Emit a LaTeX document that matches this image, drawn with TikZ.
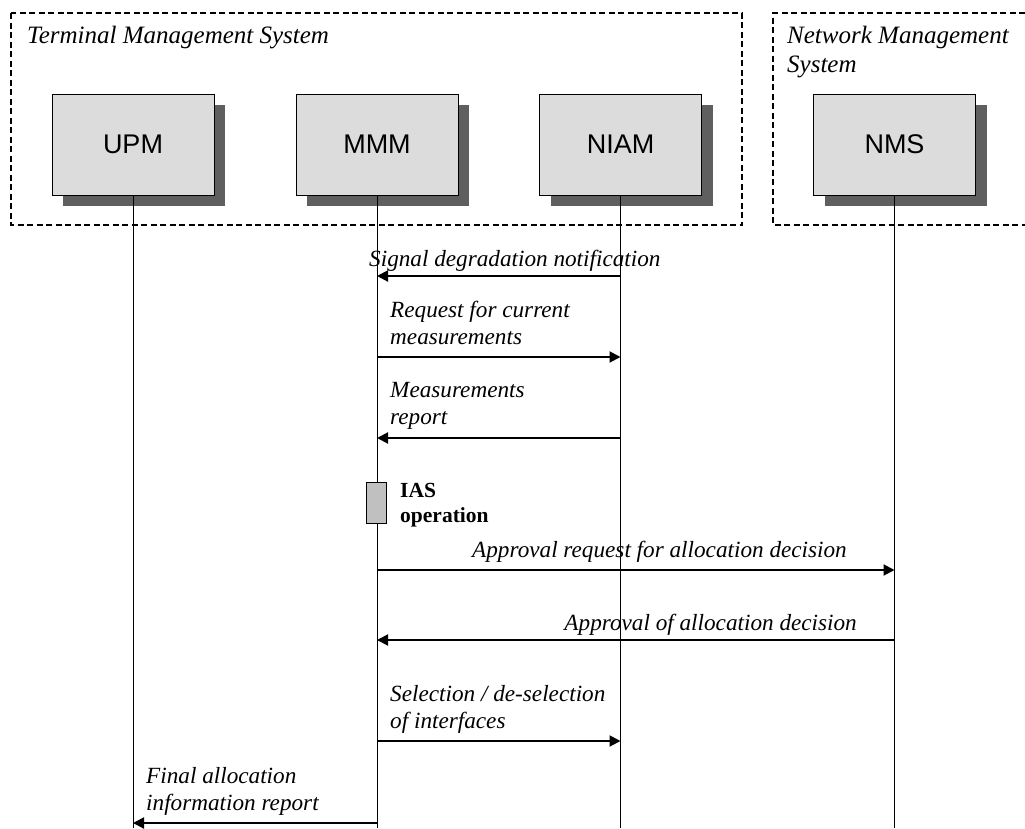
\documentclass[tikz,border=0pt]{standalone}
\usepackage{fontspec}
\setmainfont{Liberation Serif}
\newfontfamily\boxfont{Liberation Sans}
\usetikzlibrary{arrows.meta,shadows}
\definecolor{boxgray}{HTML}{DCDCDC}
\definecolor{shadowgray}{HTML}{5F5F5F}
\definecolor{actgray}{HTML}{C0C0C0}
\begin{document}
\begin{tikzpicture}[x=1pt,y=-1pt,
  ent/.style={draw=black, line width=1pt, fill=boxgray, minimum width=162pt, minimum height=101pt, inner sep=0pt,
    font=\boxfont\fontsize{27}{30}\selectfont,
    general shadow={shadow xshift=11pt, shadow yshift=-11pt, fill=shadowgray, opacity=1}},
  grp/.style={draw=black, line width=1.6pt, dash pattern=on 6pt off 3.5pt},
  grptitle/.style={anchor=base west, inner sep=0pt, align=left, font=\itshape\fontsize{25}{29}\selectfont},
  life/.style={draw=black, line width=0.9pt},
  msg/.style={draw=black, line width=2pt, -{Triangle[length=11pt,width=11pt]}},
  lbl/.style={anchor=base west, inner sep=0pt, align=left, font=\itshape\fontsize{23.2}{27}\selectfont},
  lblr/.style={lbl, anchor=base east},
  act/.style={draw=black, line width=0.9pt, fill=actgray, minimum width=20pt, minimum height=41pt, inner sep=0pt},
  actlbl/.style={anchor=base west, inner sep=0pt, align=left, font=\bfseries\fontsize{21.5}{25}\selectfont}
]
\useasboundingbox (0,0) rectangle (1025,828);

% group boxes
\draw[grp] (11,13) rectangle (742,225);
\draw[grp] (1025,13) -- (773,13) -- (773,225) -- (1025,225);
\node[grptitle] (tmst) at (27,43) {Terminal Management System};
\node[grptitle] (nmst) at (787,72) {Network Management\\System};

% entities
\node[ent] (upm) at (133,144.5) {UPM};
\node[ent] (mmm) at (377,144.5) {MMM};
\node[ent] (niam) at (620.5,144.5) {NIAM};
\node[ent] (nms) at (894.5,144.5) {NMS};

% lifeline ends
\coordinate (upmE) at (133,828);
\coordinate (mmmE) at (377,828);
\coordinate (niamE) at (620.5,828);
\coordinate (nmsE) at (894.5,828);
\draw[life] (upm.south) -- (upmE);
\draw[life] (mmm.south) -- (mmmE);
\draw[life] (niam.south) -- (niamE);
\draw[life] (nms.south) -- (nmsE);

% message endpoints
\coordinate (m1a) at (620.5,276); \coordinate (m1b) at (377,276);
\coordinate (m2a) at (377,357);   \coordinate (m2b) at (620.5,357);
\coordinate (m3a) at (620.5,438); \coordinate (m3b) at (377,438);
\coordinate (m5a) at (377,570);   \coordinate (m5b) at (894.5,570);
\coordinate (m6a) at (894.5,640); \coordinate (m6b) at (377,640);
\coordinate (m7a) at (377,741);   \coordinate (m7b) at (620.5,741);
\coordinate (m8a) at (377,823);   \coordinate (m8b) at (133,823);

\draw[msg] (m1a) -- (m1b);
\draw[msg] (m2a) -- (m2b);
\draw[msg] (m3a) -- (m3b);
\draw[msg] (m5a) -- (m5b);
\draw[msg] (m6a) -- (m6b);
\draw[msg] (m7a) -- (m7b);
\draw[msg] (m8a) -- (m8b);

% labels (base = last line baseline)
\node[lbl] (l1) at (369,266) {Signal degradation notification};
\node[lbl] (l2) at (390,344) {Request for current\\measurements};
\node[lbl] (l3) at (390,424) {Measurements\\report};
\node[lblr] (l5) at (847,557) {Approval request for allocation decision};
\node[lblr] (l6) at (857,630) {Approval of allocation decision};
\node[lbl] (l7) at (390,728) {Selection / de-selection\\of interfaces};
\node[lbl] (l8) at (146,810) {Final allocation\\information report};

% activation
\node[act] (ias) at (376,502.5) {};
\node[actlbl] (iasl) at (400,522) {IAS\\operation};
\end{tikzpicture}
\end{document}
